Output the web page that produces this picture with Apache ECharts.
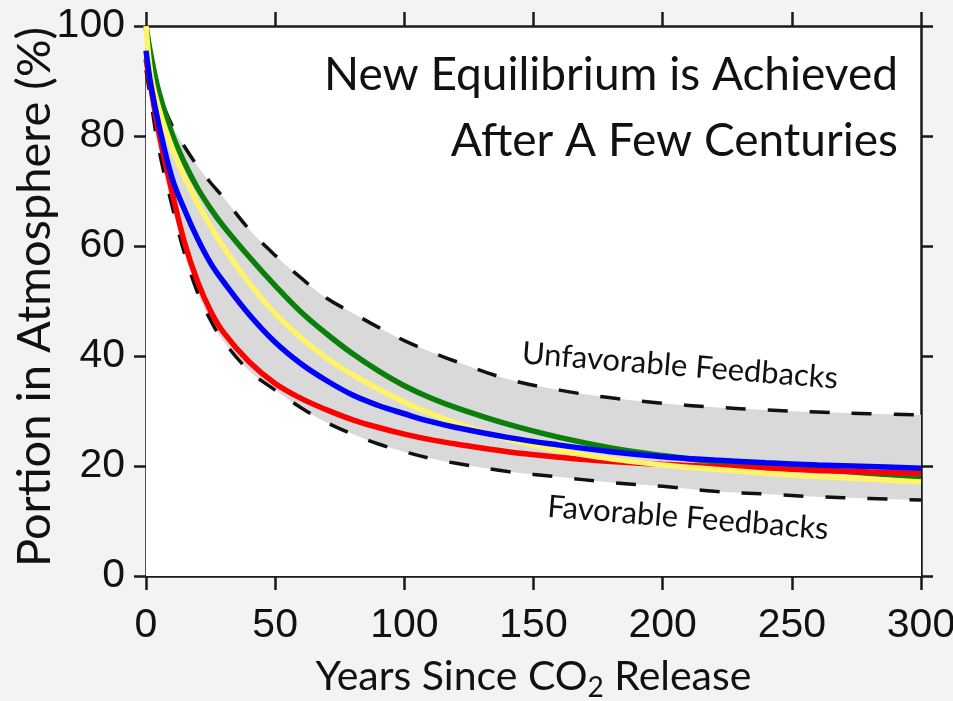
<!DOCTYPE html>
<html>
<head>
<meta charset="utf-8">
<title>CO2 Portion in Atmosphere</title>
<script src="https://cdn.jsdelivr.net/npm/echarts@6.0.0/dist/echarts.min.js"></script>
<style>
  html, body { margin: 0; padding: 0; background: #f3f3f3; }
  #chart { width: 953px; height: 701px; }
</style>
</head>
<body>
<div id="chart"></div>
<script>
// years since release (shared x for all curves)
const years = [0, 2, 5, 10, 15, 20, 25, 30, 40, 50, 60, 70, 80, 90, 100, 110, 120, 140, 160, 180, 200, 220, 240, 260, 280, 300]
// dashed envelope
const unfavorable = [100, 94, 88, 82, 78, 74.5, 71.5, 68.8, 63, 58.3, 54.2, 50.5, 47.8, 45.2, 42.8, 40.8, 39, 35.8, 33.8, 32.4, 31.4, 30.7, 30.2, 29.8, 29.5, 29.3]
const favorable = [92, 86, 77.5, 67.5, 58.5, 51.5, 46.5, 42.7, 37.3, 33.8, 30.6, 27.9, 25.8, 24, 22.6, 21.4, 20.5, 19, 18, 17, 16.3, 15.4, 14.9, 14.4, 14.1, 13.8]
// model curves
const greenLine = [100, 94.5, 88, 80.5, 75, 70.5, 66.8, 63.6, 58, 52.8, 48, 44, 40.4, 37.3, 34.6, 32.4, 30.6, 27.6, 25.2, 23.3, 21.9, 20.8, 20.1, 19.4, 18.7, 17.9]
const redLine = [94, 88.5, 80.5, 70, 60.5, 53.5, 48.2, 44.3, 38.9, 35, 32.3, 30.2, 28.4, 27, 25.8, 24.8, 24, 22.6, 21.6, 20.8, 20.3, 19.9, 19.6, 19.2, 18.9, 18.7]
const yellowLine = [100, 91, 85, 78, 72.5, 67.8, 63.6, 59.8, 53.2, 47.7, 43.3, 39.6, 36.6, 34, 31.6, 29.6, 27.8, 24.9, 22.8, 21.3, 20.2, 19.4, 18.7, 18.1, 17.6, 17.1]
const blueLine = [95.5, 89, 82, 72.5, 66.5, 61.3, 56.9, 53.5, 47.5, 42.5, 38.6, 35.5, 32.9, 31, 29.5, 28.1, 27, 25.2, 23.8, 22.6, 21.7, 21.1, 20.6, 20.2, 19.9, 19.6]

const TEXT_FONT = 'Lato, "Open Sans", sans-serif'
const NUM_FONT = '"Liberation Sans Narrow", "Liberation Sans", Arial, sans-serif'

function pairs (ys) {
  return years.map((x, i) => [x, ys[i]])
}

let dom = document.getElementById('chart')
let myChart = echarts.init(dom, null, { renderer: 'canvas' })

const frameLine = { show: true, onZero: false, lineStyle: { color: '#1a1a1a', width: 2.5 } }
const frameTick = { show: true, inside: false, lineStyle: { color: '#1a1a1a', width: 2.5 } }

function curve (name, data, color, z) {
  return {
    name: name,
    type: 'line',
    data: pairs(data),
    smooth: 0.4,
    symbol: 'none',
    z: z,
    lineStyle: { color: color, width: 5.5 }
  }
}

// dashed limit; its area is grey (upper) or white (lower) so the band shows between them
function limit (name, data, fill, z) {
  return {
    name: name,
    type: 'line',
    data: pairs(data),
    smooth: 0.4,
    symbol: 'none',
    z: z,
    lineStyle: { color: '#111', width: 3.5, type: [20, 22] },
    areaStyle: { color: fill, opacity: 1, origin: 'start' }
  }
}

function titleLine (text, top) {
  return {
    type: 'text',
    right: 55,
    top: top,
    z: 100,
    style: { text: text, font: '46px ' + TEXT_FONT, fill: '#111' }
  }
}

function note (text, x, y) {
  return {
    type: 'text',
    x: x,
    y: y,
    rotation: -0.08,
    z: 100,
    style: {
      text: text,
      font: '31px ' + TEXT_FONT,
      fill: '#111',
      align: 'center',
      verticalAlign: 'middle'
    }
  }
}

let option = {
  backgroundColor: '#f3f3f3',
  animation: false,
  grid: {
    left: 146,
    right: 32,
    top: 26,
    bottom: 125,
    outerBoundsMode: 'none',
    containLabel: false,
    show: true,
    backgroundColor: '#ffffff',
    borderWidth: 0
  },
  xAxis: [
    {
      type: 'value',
      position: 'bottom',
      min: 0,
      max: 300,
      interval: 50,
      axisLine: frameLine,
      axisTick: Object.assign({ length: 14 }, frameTick),
      splitLine: { show: false },
      axisLabel: { fontSize: 41, fontFamily: NUM_FONT, color: '#111', margin: 29 },
      name: 'Years Since CO{sub|2} Release',
      nameLocation: 'middle',
      nameGap: 76,
      nameTextStyle: {
        fontSize: 41,
        fontFamily: TEXT_FONT,
        color: '#111',
        rich: {
          sub: { fontSize: 28, fontFamily: TEXT_FONT, color: '#111', padding: [22, 0, 0, 0] }
        }
      }
    },
    {
      type: 'value',
      position: 'top',
      min: 0,
      max: 300,
      interval: 50,
      axisLine: frameLine,
      axisTick: Object.assign({ length: 14 }, frameTick),
      splitLine: { show: false },
      axisLabel: { show: false }
    }
  ],
  yAxis: [
    {
      type: 'value',
      position: 'left',
      min: 0,
      max: 100,
      interval: 20,
      axisLine: frameLine,
      axisTick: Object.assign({ length: 12 }, frameTick),
      splitLine: { show: false },
      axisLabel: { fontSize: 41, fontFamily: NUM_FONT, color: '#111', margin: 21 },
      name: 'Portion in Atmosphere (%)',
      nameLocation: 'middle',
      nameGap: 88,
      nameMoveOverlap: false,
      nameTextStyle: { fontSize: 47, fontFamily: TEXT_FONT, color: '#111', padding: [0, 0, 0, 8] }
    },
    {
      type: 'value',
      position: 'right',
      min: 0,
      max: 100,
      interval: 20,
      axisLine: frameLine,
      axisTick: Object.assign({ length: 12 }, frameTick),
      splitLine: { show: false },
      axisLabel: { show: false }
    }
  ],
  graphic: [
    titleLine('New Equilibrium is Achieved', 52),
    titleLine('After A Few Centuries', 118),
    note('Unfavorable Feedbacks', 680, 366),
    note('Favorable Feedbacks', 688, 518)
  ],
  series: [
    limit('Unfavorable Feedbacks', unfavorable, '#d9d9d9', 1),
    limit('Favorable Feedbacks', favorable, '#ffffff', 2),
    curve('green', greenLine, '#0a800a', 3),
    curve('red', redLine, '#ff0000', 4),
    curve('yellow', yellowLine, '#fff36a', 5),
    curve('blue', blueLine, '#0000ff', 6)
  ]
}

myChart.setOption(option)
</script>
</body>
</html>
